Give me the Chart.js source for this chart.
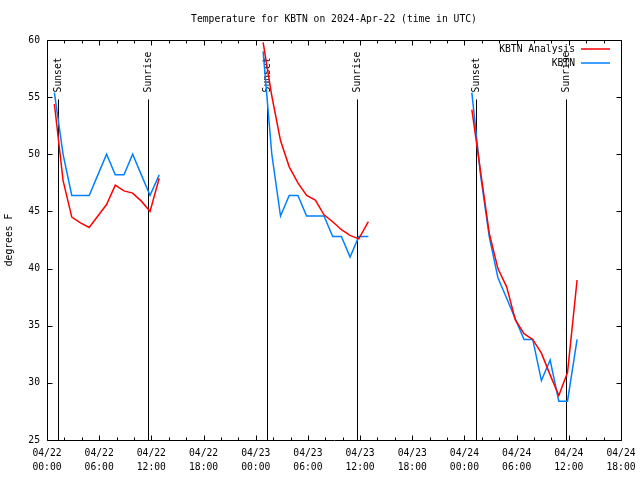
<!DOCTYPE html>
<html>
<head>
<meta charset="utf-8">
<title>Temperature for KBTN</title>
<script src="https://cdn.jsdelivr.net/npm/chart.js@4.4.1/dist/chart.umd.min.js"></script>
<style>
  html, body { margin: 0; padding: 0; background: #fff; }
</style>
</head>
<body>
<canvas id="tempChart" width="640" height="480"></canvas>
<script>
// times are hours after 2024-04-22 00:00 UTC
const night1Hours = [0.85, 1.85, 2.85, 3.85, 4.85, 5.85, 6.85, 7.85, 8.85, 9.85, 10.85, 11.85, 12.9];
const night2Hours = [24.85, 25.85, 26.85, 27.85, 28.85, 29.85, 30.85, 31.85, 32.85, 33.85, 34.85, 35.85, 36.95];
const night3Hours = [48.85, 49.85, 50.85, 51.85, 52.85, 53.85, 54.85, 55.85, 56.85, 57.85, 58.85, 59.85, 60.95];

// KBTN Analysis (red)
const analysis1 = [54.4, 47.7, 44.5, 44.0, 43.6, 44.6, 45.6, 47.3, 46.8, 46.6, 45.9, 45.0, 47.9];
const analysis2 = [59.8, 55.1, 51.2, 48.9, 47.5, 46.4, 46.0, 44.7, 44.1, 43.4, 42.9, 42.6, 44.1];
const analysis3 = [53.9, 48.5, 43.1, 40.0, 38.4, 35.5, 34.3, 33.8, 32.6, 30.7, 28.9, 30.9, 39.0];

// KBTN observations (blue)
const obs1 = [55.4, 50.0, 46.4, 46.4, 46.4, 48.2, 50.0, 48.2, 48.2, 50.0, 48.2, 46.4, 48.2];
const obs2 = [59.0, 50.0, 44.6, 46.4, 46.4, 44.6, 44.6, 44.6, 42.8, 42.8, 41.0, 42.8, 42.8];
const obs3 = [55.4, 48.2, 42.8, 39.2, 37.4, 35.6, 33.8, 33.8, 30.2, 32.0, 28.4, 28.4, 33.8];

// sunset / sunrise markers
const sunHours = [1.3, 11.6, 25.3, 35.65, 49.3, 59.65];
const sunLabels = ["Sunset", "Sunrise", "Sunset", "Sunrise", "Sunset", "Sunrise"];
const sunLineTop = 54.8;

// x axis tick labels, one per 6 hours
const tickDays = ["04/22", "04/22", "04/22", "04/22", "04/23", "04/23", "04/23", "04/23", "04/24", "04/24", "04/24", "04/24"];
const tickTimes = ["00:00", "06:00", "12:00", "18:00", "00:00", "06:00", "12:00", "18:00", "00:00", "06:00", "12:00", "18:00"];

const monoFamily = "'DejaVu Sans Mono', 'Liberation Mono', monospace";
const monoFont = { family: monoFamily, size: 9.7, lineHeight: 1.5 };

// join the nights into one series, with a gap between them
function buildPoints(hourSets, valueSets) {
  const pts = [];
  hourSets.forEach((hrs, n) => {
    if (n > 0) pts.push({ x: hrs[0] - 1, y: null });
    hrs.forEach((h, i) => pts.push({ x: h, y: valueSets[n][i] }));
  });
  return pts;
}

const nightHours = [night1Hours, night2Hours, night3Hours];

const chartMarks = {
  id: "chartMarks",
  beforeDatasetsDraw(chart) {
    const { ctx, chartArea: a, scales: { x, y } } = chart;
    ctx.save();
    ctx.strokeStyle = "#000";
    ctx.fillStyle = "#000";
    ctx.lineWidth = 1;
    ctx.font = `${monoFont.size}px ${monoFamily}`;
    const topPx = y.getPixelForValue(sunLineTop);
    sunHours.forEach((h, i) => {
      const px = Math.round(x.getPixelForValue(h)) + 0.5;
      ctx.beginPath();
      ctx.moveTo(px, topPx);
      ctx.lineTo(px, a.bottom);
      ctx.stroke();
      ctx.save();
      ctx.translate(px, topPx - 7);
      ctx.rotate(-Math.PI / 2);
      ctx.textAlign = "left";
      ctx.textBaseline = "middle";
      ctx.fillText(sunLabels[i], 0, 0);
      ctx.restore();
    });
    ctx.restore();
  },
  afterDraw(chart) {
    const { ctx, chartArea: a, scales: { x, y } } = chart;
    const L = Math.round(a.left) + 0.5, R = Math.round(a.right) + 0.5;
    const T = Math.round(a.top) + 0.5, B = Math.round(a.bottom) + 0.5;
    ctx.save();
    ctx.strokeStyle = "#000";
    ctx.lineWidth = 1;
    ctx.beginPath();
    ctx.rect(L, T, R - L, B - T);
    // y ticks, inward on both sides
    y.ticks.forEach((t) => {
      const py = Math.round(y.getPixelForValue(t.value)) + 0.5;
      ctx.moveTo(L, py); ctx.lineTo(L + 5, py);
      ctx.moveTo(R, py); ctx.lineTo(R - 5, py);
    });
    // x ticks: major every 6 h, minor every 2 h
    for (let h = x.min; h <= x.max; h += 2) {
      const len = h % 6 === 0 ? 5 : 3;
      const px = Math.round(x.getPixelForValue(h)) + 0.5;
      ctx.moveTo(px, B); ctx.lineTo(px, B - len);
      ctx.moveTo(px, T); ctx.lineTo(px, T + len);
    }
    ctx.stroke();

    // title
    ctx.fillStyle = "#000";
    ctx.font = `${monoFont.size}px ${monoFamily}`;
    ctx.textAlign = "center";
    ctx.textBaseline = "middle";
    ctx.fillText("Temperature for KBTN on 2024-Apr-22 (time in UTC)", (a.left + a.right) / 2, 19);

    // legend, top right
    ctx.textAlign = "right";
    ctx.lineWidth = 1.5;
    chart.data.datasets.forEach((ds, i) => {
      const ly = 49 + i * 14;
      ctx.fillStyle = "#000";
      ctx.fillText(ds.label, a.right - 46, ly);
      ctx.strokeStyle = ds.borderColor;
      ctx.beginPath();
      ctx.moveTo(a.right - 40, ly);
      ctx.lineTo(a.right - 11, ly);
      ctx.stroke();
    });
    ctx.restore();
  }
};

new Chart(document.getElementById("tempChart"), {
  type: "line",
  data: {
    datasets: [
      {
        label: "KBTN Analysis",
        data: buildPoints(nightHours, [analysis1, analysis2, analysis3]),
        borderColor: "#ff0000",
        borderWidth: 1.5,
        pointRadius: 0,
        tension: 0,
        spanGaps: false,
      },
      {
        label: "KBTN",
        data: buildPoints(nightHours, [obs1, obs2, obs3]),
        borderColor: "#0080ff",
        borderWidth: 1.5,
        pointRadius: 0,
        tension: 0,
        spanGaps: false,
      },
    ],
  },
  options: {
    responsive: false,
    devicePixelRatio: 1,
    animation: false,
    layout: { padding: { top: 40, right: 19, left: 0, bottom: 0 } },
    plugins: {
      legend: { display: false },
      title: { display: false },
      tooltip: { enabled: false },
    },
    scales: {
      x: {
        type: "linear",
        min: 0,
        max: 66,
        grid: { display: false, drawTicks: false },
        border: { display: false },
        ticks: {
          stepSize: 6,
          autoSkip: false,
          maxRotation: 0,
          padding: 6,
          color: "#000",
          font: monoFont,
          callback: (v) => {
            const i = Math.round(v / 6);
            return [tickDays[i], tickTimes[i]];
          },
        },
        afterFit: (s) => {
          s.height = 40;
          s.paddingLeft = 0;
          s.paddingRight = 0;
        },
      },
      y: {
        min: 25,
        max: 60,
        grid: { display: false, drawTicks: false },
        border: { display: false },
        ticks: { stepSize: 5, padding: 7, color: "#000", font: monoFont },
        title: { display: true, text: "degrees F", color: "#000", font: monoFont, padding: { top: 2, bottom: 2 } },
        afterFit: (s) => {
          s.width = 47;
          s.paddingTop = 0;
          s.paddingBottom = 0;
        },
      },
    },
  },
  plugins: [chartMarks],
});
</script>
</body>
</html>
